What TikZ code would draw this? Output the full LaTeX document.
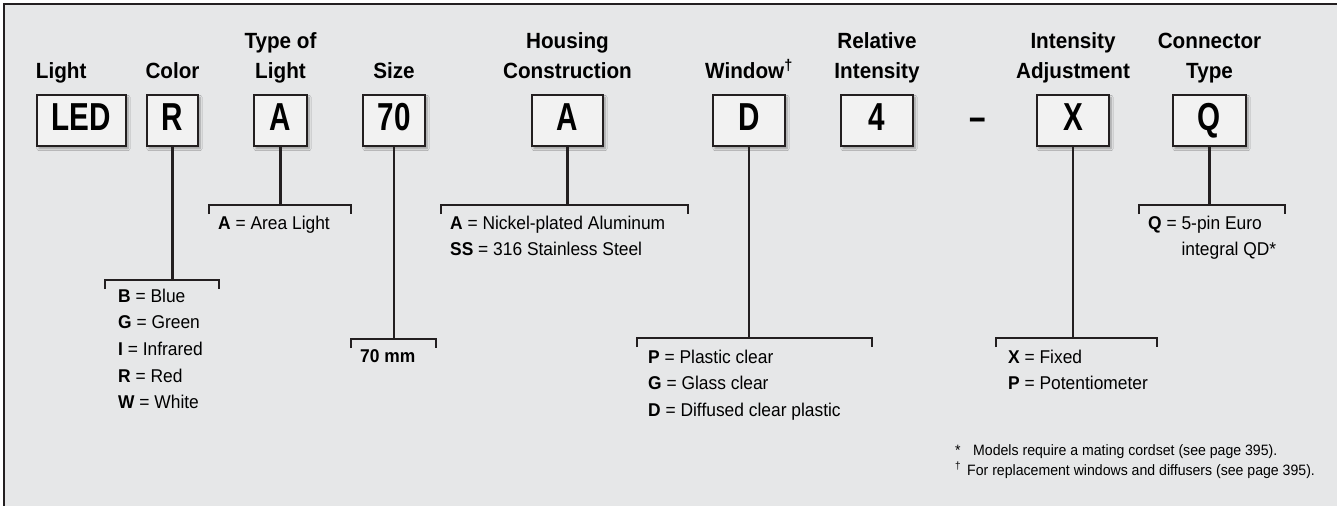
\documentclass[tikz,border=0pt]{standalone}
\usepackage{fontspec}
\setmainfont{Liberation Sans}[FakeStretch=0.94]
\newfontfamily\boxfont{Liberation Sans Bold}[FakeStretch=0.76]
\usepackage{tikz}
\usetikzlibrary{positioning, shadows.blur}
\definecolor{panel}{HTML}{E6E7E8}
\definecolor{boxfill}{HTML}{F2F2F2}
\definecolor{ink}{HTML}{231F20}

\begin{document}
\begin{tikzpicture}[
    x=1pt, y=-1pt,
    codetext/.style={inner sep=0pt, text height=28pt, text depth=9pt, font=\boxfont\fontsize{39}{39}\selectfont},
    codebox/.style={codetext, rectangle, draw=ink, line width=2.2pt, fill=boxfill, minimum height=51pt, blur shadow={shadow xshift=2pt, shadow yshift=-2.5pt, shadow blur steps=6, shadow opacity=35}},
    heading/.style={inner sep=0pt, outer sep=0pt, align=center, font=\bfseries\fontsize{22}{30}\selectfont},
    key/.style={anchor=north west, inner sep=0pt, align=left, font=\fontsize{18.5}{26.7}\selectfont},
    line/.style={draw=ink, line width=2.6pt}
]
\useasboundingbox (0,0) rectangle (1337,506);

% Panel
\fill[white] (0,0) rectangle (1337,506);
\fill[panel] (4,4) rectangle (1337,506);
\draw[ink, line width=2pt] (1337,4) -- (4,4) -- (4,506);

% Code boxes
\node[codebox, minimum width=89pt] (led) at (81.5,120.5) {LED};
\node[codebox, minimum width=51pt] (col) at (172.5,120.5) {R};
\node[codebox, minimum width=53pt] (typ) at (280.5,120.5) {A};
\node[codebox, minimum width=62pt] (siz) at (394,120.5) {70};
\node[codebox, minimum width=71pt] (hou) at (567.5,120.5) {A};
\node[codebox, minimum width=72pt] (win) at (749,120.5) {D};
\node[codebox, minimum width=72pt] (rel) at (877,120.5) {4};
\node[codetext] (dash) at (978,120.5) {–};
\node[codebox, minimum width=72pt] (adj) at (1073,120.5) {X};
\node[codebox, minimum width=73pt] (con) at (1209.5,120.5) {Q};

% Headings
\node[heading, above=6.9pt of led.north west, anchor=south west] (hled) {Light\strut};
\node[heading, above=6.9pt of col] (hcol) {Color\strut};
\node[heading, above=6.9pt of typ] (htyp) {Type of\\Light\strut};
\node[heading, above=6.9pt of siz] (hsiz) {Size\strut};
\node[heading, above=6.9pt of hou] (hhou) {Housing\\Construction\strut};
\node[heading, above=6.9pt of win] (hwin) {Window\textsuperscript{†}\strut};
\node[heading, above=6.9pt of rel] (hrel) {Relative\\Intensity\strut};
\node[heading, above=6.9pt of adj] (hadj) {Intensity\\Adjustment\strut};
\node[heading, above=6.9pt of con] (hcon) {Connector\\Type\strut};

% Stems and brackets
\foreach \b/\lx/\rx/\y in {col/105/219/280, typ/209/351/205, siz/351/436/339, hou/441/688/205, win/637/872/338, adj/996/1157/338, con/1139/1285/205}
{
    \coordinate (\b-ft) at (\b.south |- 0,\y);
    \draw[line] (\b) -- (\b-ft);
    \draw[line] (\lx,\y+9) -- (\lx,\y) -- (\rx,\y) -- (\rx,\y+9);
}

% Keys
\node[key] (colkey) at (118,288.5) {\textbf{B} = Blue\\\textbf{G} = Green\\\textbf{I} = Infrared\\\textbf{R} = Red\\\textbf{W} = White};
\node[key] (typkey) at (218,215.5) {\textbf{A} = Area Light};
\node[key] (sizkey) at (360,349.5) {\textbf{70 mm}};
\node[key] (houkey) at (450,215.5) {\textbf{A} = Nickel-plated Aluminum\\\textbf{SS} = 316 Stainless Steel};
\node[key] (winkey) at (648,349.5) {\textbf{P} = Plastic clear\\\textbf{G} = Glass clear\\\textbf{D} = Diffused clear plastic};
\node[key] (adjkey) at (1008,349.5) {\textbf{X} = Fixed\\\textbf{P} = Potentiometer};
\node[key] (conkey) at (1148,215.5) {\textbf{Q} = 5-pin Euro\\\phantom{\textbf{Q} = }integral QD*};

% Footnotes
\node[key, font=\fontsize{15}{20}\selectfont] (notes) at (955,444) {\makebox[18pt][l]{*}Models require a mating cordset (see page 395).\\\makebox[12pt][l]{\textsuperscript{†}}For replacement windows and diffusers (see page 395).};

\end{tikzpicture}
\end{document}
